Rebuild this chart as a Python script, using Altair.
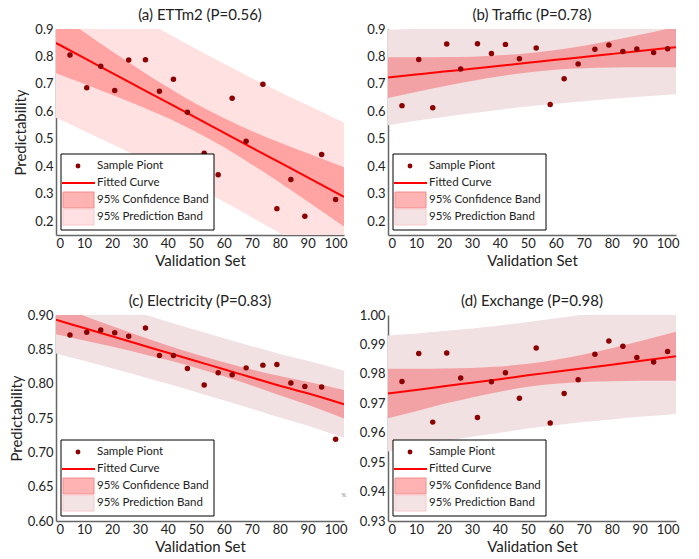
import altair as alt
import pandas as pd

# ---- data ----
xs = [5, 11, 16, 21, 26, 32, 37, 42, 47, 53, 58, 63, 68, 74, 79, 84, 89, 95, 100]

pts_a = [0.805, 0.686, 0.764, 0.676, 0.787, 0.788, 0.673, 0.717, 0.597, 0.448,
         0.369, 0.648, 0.491, 0.699, 0.246, 0.352, 0.218, 0.443, 0.279]
pts_b = [0.621, 0.789, 0.613, 0.845, 0.754, 0.846, 0.811, 0.844, 0.792, 0.831,
         0.625, 0.719, 0.773, 0.826, 0.842, 0.818, 0.827, 0.814, 0.828]
pts_c = [0.871, 0.875, 0.878, 0.874, 0.869, 0.881, 0.841, 0.841, 0.822, 0.798,
         0.816, 0.813, 0.823, 0.827, 0.828, 0.801, 0.796, 0.795, 0.719]
pts_d = [0.9774, 0.9869, 0.9636, 0.9871, 0.9786, 0.9652, 0.9773, 0.9804, 0.9717, 0.9888,
         0.9633, 0.9733, 0.9780, 0.9867, 0.9912, 0.9894, 0.9856, 0.9840, 0.9876]

grid = [0, 10, 20, 30, 40, 50, 60, 70, 80, 90, 103]

fit_a = [0.849, 0.795, 0.740, 0.686, 0.632, 0.577, 0.523, 0.468, 0.414, 0.360, 0.289]
conf_a = [0.110, 0.094, 0.079, 0.066, 0.056, 0.051, 0.053, 0.061, 0.073, 0.088, 0.108]
pred_a = [0.272, 0.265, 0.259, 0.254, 0.252, 0.251, 0.251, 0.253, 0.257, 0.262, 0.271]

fit_b = [0.723, 0.734, 0.745, 0.755, 0.766, 0.777, 0.788, 0.798, 0.809, 0.820, 0.834]
conf_b = [0.074, 0.063, 0.053, 0.044, 0.038, 0.035, 0.036, 0.041, 0.049, 0.059, 0.073]
pred_b = [0.173, 0.168, 0.165, 0.162, 0.160, 0.159, 0.160, 0.161, 0.163, 0.167, 0.172]

fit_c = [0.893, 0.881, 0.869, 0.857, 0.845, 0.833, 0.821, 0.809, 0.797, 0.786, 0.770]
conf_c = [0.021, 0.018, 0.015, 0.0126, 0.0107, 0.0098, 0.0102, 0.0117, 0.014, 0.0167, 0.0207]
pred_c = [0.049, 0.0477, 0.0466, 0.0458, 0.0453, 0.0451, 0.0452, 0.0456, 0.0463, 0.0472, 0.0489]

fit_d = [0.9733, 0.9745, 0.9758, 0.9770, 0.9782, 0.9795, 0.9807, 0.9819, 0.9831, 0.9844, 0.9860]
conf_d = [0.0084, 0.0072, 0.0060, 0.0050, 0.0043, 0.0039, 0.0041, 0.0047, 0.0056, 0.0067, 0.0083]
pred_d = [0.0197, 0.0192, 0.0188, 0.0184, 0.0182, 0.0181, 0.0182, 0.0183, 0.0186, 0.0190, 0.0196]

titles = ["(a) ETTm2 (P=0.56)", "(b) Traffic (P=0.78)",
          "(c) Electricity  (P=0.83)", "(d) Exchange  (P=0.98)"]
legend_labels = ["Sample Piont", "Fitted Curve", "95% Confidence Band", "95% Prediction Band"]
x_ticks = [0, 10, 20, 30, 40, 50, 60, 70, 80, 90, 100]
y_ticks_ab = [0.2, 0.3, 0.4, 0.5, 0.6, 0.7, 0.8, 0.9]
y_ticks_c = [0.60, 0.65, 0.70, 0.75, 0.80, 0.85, 0.90]
y_ticks_d = [0.93, 0.94, 0.95, 0.96, 0.97, 0.98, 0.99, 1.00]

FONT = "Lato"
W, H = 288, 206
PT_COLOR = "#8b0000"
LINE_COLOR = "#ff0000"


def panel(title, pts, fit, conf, pred, ydom, yticks, yfmt, ytitle, ytitlepad,
          conf_color, pred_color, pred_patch, extra=None):
    xscale = alt.Scale(domain=[0, 103], nice=False, zero=False)
    yscale = alt.Scale(domain=ydom, nice=False, zero=False)
    band = pd.DataFrame({
        "x": grid,
        "fit": fit,
        "clo": [f - c for f, c in zip(fit, conf)],
        "chi": [f + c for f, c in zip(fit, conf)],
        "plo": [f - p for f, p in zip(fit, pred)],
        "phi": [f + p for f, p in zip(fit, pred)],
    })
    sample = pd.DataFrame({"x": xs, "y": pts})

    xaxis = alt.Axis(values=x_ticks, title="Validation Set", grid=False, ticks=False,
                     labelPadding=2, titlePadding=3)
    yaxis_kw = dict(values=yticks, format=yfmt, grid=False, ticks=False, labelPadding=3)
    if ytitle:
        yaxis = alt.Axis(title="Predictability", titlePadding=ytitlepad, **yaxis_kw)
    else:
        yaxis = alt.Axis(title=None, **yaxis_kw)

    X = lambda f: alt.X(f, scale=xscale, axis=xaxis)
    Y = lambda f: alt.Y(f, scale=yscale, axis=yaxis)

    pred_area = alt.Chart(band).mark_area(clip=True, color=pred_color, interpolate="monotone").encode(
        x=X("x:Q"), y=Y("plo:Q"), y2="phi:Q")
    conf_area = alt.Chart(band).mark_area(clip=True, color=conf_color, interpolate="monotone").encode(
        x=X("x:Q"), y=Y("clo:Q"), y2="chi:Q")
    line = alt.Chart(band).mark_line(clip=True, color=LINE_COLOR, strokeWidth=2,
                                     interpolate="monotone").encode(
        x=X("x:Q"), y=Y("fit:Q"))
    points = alt.Chart(sample).mark_circle(clip=True, color=PT_COLOR, opacity=1, size=30).encode(
        x=X("x:Q"), y=Y("y:Q"))

    # manual legend box inside the plot
    one = pd.DataFrame({"k": [0]})
    bx0, bx1, by0, by1 = 5, 158, 125, 201
    rows = [137, 154, 171, 188]
    leg = [
        alt.Chart(one).mark_rect(fill="white", stroke="black", strokeWidth=1).encode(
            x=alt.value(bx0), x2=alt.value(bx1), y=alt.value(by0), y2=alt.value(by1)),
        alt.Chart(one).mark_circle(color=PT_COLOR, opacity=1, size=24).encode(
            x=alt.value(22), y=alt.value(rows[0])),
        alt.Chart(one).mark_rule(color=LINE_COLOR, strokeWidth=2).encode(
            x=alt.value(6), x2=alt.value(39), y=alt.value(rows[1])),
        alt.Chart(one).mark_rect(fill="#ffb3b3", stroke="#f08c8c", strokeWidth=1).encode(
            x=alt.value(7), x2=alt.value(38), y=alt.value(rows[2] - 8), y2=alt.value(rows[2] + 8)),
        alt.Chart(one).mark_rect(fill=pred_patch, stroke="#f8c8cc", strokeWidth=1).encode(
            x=alt.value(7), x2=alt.value(38), y=alt.value(rows[3] - 8), y2=alt.value(rows[3] + 8)),
    ]
    for lab, ry in zip(legend_labels, rows):
        leg.append(
            alt.Chart(pd.DataFrame({"t": [lab]})).mark_text(
                align="left", baseline="middle", font=FONT, fontSize=11.5, color="#222222").encode(
                x=alt.value(41), y=alt.value(ry), text="t:N"))
    layers = [pred_area, conf_area, line, points] + leg
    if extra:
        layers.append(
            alt.Chart(pd.DataFrame({"t": [extra]})).mark_text(
                font=FONT, fontSize=6, color="#888888").encode(
                x=alt.value(288), y=alt.value(180), text="t:N"))
    return alt.layer(*layers).properties(
        width=W, height=H,
        title=alt.TitleParams(title, fontSize=15, font=FONT, fontWeight="normal",
                              color="#222222", offset=0),
    )


pa = panel(titles[0], pts_a, fit_a, conf_a, pred_a, [0.15, 0.9], y_ticks_ab, ".1f",
           True, 6, "#ffa3a3", "#ffe1e1", "#ffe0e3")
pb = panel(titles[1], pts_b, fit_b, conf_b, pred_b, [0.15, 0.9], y_ticks_ab, ".1f",
           False, 0, "#f2a2a4", "#f2e1e2", "#f3e3e4")
pc = panel(titles[2], pts_c, fit_c, conf_c, pred_c, [0.60, 0.90], y_ticks_c, ".2f",
           True, 3, "#f2a2a4", "#f2e1e2", "#f3e3e4", extra="%")
pd_ = panel(titles[3], pts_d, fit_d, conf_d, pred_d, [0.93, 1.00], y_ticks_d, ".2f",
            False, 0, "#f2a2a4", "#f2e1e2", "#f3e3e4")

chart = alt.concat(pa, pb, pc, pd_, columns=2, spacing={"row": 80, "column": 44},
                   bounds="flush").properties(
    padding={"left": 9, "top": 8, "right": 2, "bottom": 2},
).configure_view(stroke=None).configure_axis(
    labelFont=FONT, labelFontSize=13, labelColor="#222222",
    titleFont=FONT, titleFontSize=15, titleFontWeight="normal", titleColor="#222222",
    domainColor="#666666", domainWidth=1.5,
)

chart.save("out.html", embed_options={"renderer": "svg", "actions": False})
